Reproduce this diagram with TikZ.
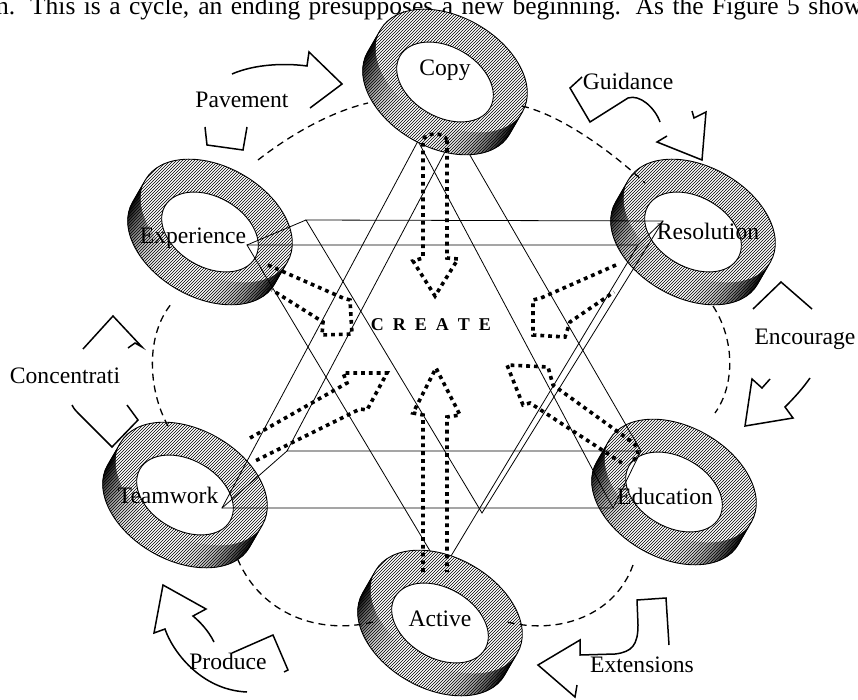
\documentclass[tikz,border=0pt]{standalone}
\usepackage{fontspec}
\setmainfont{Liberation Serif}
\usetikzlibrary{patterns}
\newcommand\tube[2]{%
  \begin{scope}[shift={(#1,#2)}, rotate=60]
    \foreach \t in {90,96,...,264}{%
      \pgfmathsetmacro\g{100*abs(sin(\t+3))^3}%
      \fill[black!\g, draw=black!\g, line width=0.3pt] ({-13+53*cos(\t)},{82*sin(\t)}) arc[start angle=\t, end angle=\t+6, x radius=53, y radius=82] -- ({13+53*cos(\t+6)},{82*sin(\t+6)}) arc[start angle=\t+6, end angle=\t, x radius=53, y radius=82] -- cycle;}
    \fill[white] (13,0) ellipse[x radius=53,y radius=82];
    \filldraw[pattern=north east lines, draw=black, line width=0.9pt] (13,82) arc[start angle=90,end angle=-90,x radius=53,y radius=82] -- (-13,-82) arc[start angle=-90,end angle=-270,x radius=53,y radius=82] -- cycle;
    \filldraw[fill=white, draw=black, line width=0.9pt] (0,0) ellipse[x radius=35,y radius=52];
  \end{scope}}
\begin{document}
\begin{tikzpicture}[x=1pt,y=-1pt,
  lab/.style={font=\fontsize{23.6}{28}\selectfont, inner sep=0pt},
  starline/.style={line width=0.8pt},
  dashedarc/.style={line width=1.3pt, dash pattern=on 7pt off 5pt},
  dotarrow/.style={line width=3.6pt, dash pattern=on 3.8pt off 4pt, line join=miter},
  curvearrow/.style={line width=1.5pt, line join=miter}]
\useasboundingbox (0,0) rectangle (858,700);
\fill[white] (0,0) rectangle (858,700);

\node[font=\fontsize{25.5}{30}\selectfont, inner sep=0pt, anchor=base west] (toptext) at (-4,15) {\makebox[866pt][s]{n. This is a cycle, an ending presupposes a new beginning. As the Figure 5 show}};

% tubes lying under the star
\tube{210}{232}
\tube{693}{232}
\tube{185}{495}
\tube{674}{492}

% star of two doubled triangles
\coordinate (d2a) at (247,245); \coordinate (d2b) at (638,245); \coordinate (d2c) at (442,571);
\coordinate (d1a) at (306,220); \coordinate (d1b) at (663,221); \coordinate (d1c) at (482,513);
\coordinate (u1a) at (287,451); \coordinate (u1b) at (641,451); \coordinate (u1c) at (456,131);
\coordinate (u2a) at (222,508); \coordinate (u2b) at (613,508); \coordinate (u2c) at (418,141);
\draw[starline] (d2a) -- (d2b) -- (d2c) -- cycle;
\draw[starline] (d1a) -- (d1b) -- (d1c) -- cycle;
\draw[starline] (d2a) -- (d1a);
\draw[starline] (d2b) -- (d1b);
\draw[starline] (u1a) -- (u1b) -- (u1c) -- cycle;
\draw[starline] (u2a) -- (u2b) -- (u2c) -- cycle;
\draw[starline] (u1a) -- (u2a);
\draw[starline] (u1b) -- (u2b);

% tubes lying over the star
\tube{445}{82}
\tube{440}{623}

\node[lab, anchor=base] (copy) at (445,76) {Copy};
\node[lab, anchor=base] (experience) at (193,244) {Experience};
\node[lab, anchor=base] (resolution) at (708,240) {Resolution};
\node[lab, anchor=base] (teamwork) at (168,503) {Teamwork};
\node[lab, anchor=base west] (education) at (617,504) {Education};
\node[lab, anchor=base] (active) at (440,626) {Active};
\node[font=\fontsize{18}{20}\selectfont\bfseries, inner sep=0pt, anchor=base] (create) at (431,330) {C\kern9pt R\kern9pt E\kern9pt A\kern9pt T\kern9pt E};

% dashed ring pieces
\draw[dashedarc] (258,160) .. controls (290,135) and (330,112) .. (368,103);
\draw[dashedarc] (522,106) .. controls (560,115) and (610,150) .. (645,183);
\draw[dashedarc] (713,306) .. controls (735,340) and (735,385) .. (715,413);
\draw[dashedarc] (633,565) .. controls (615,615) and (560,635) .. (507,622);
\draw[dashedarc] (373,622) .. controls (320,635) and (262,615) .. (238,560);
\draw[dashedarc] (168,426) .. controls (148,390) and (145,335) .. (172,303);

% dotted arrows toward the centre
\draw[dotarrow] (447,140) .. controls (444,132) and (426,132) .. (423,140) -- (423,258) -- (413,261) -- (435,296) -- (458,259) -- (447,258) -- cycle;
\draw[dotarrow] (423,572) -- (423,415) -- (413,413) -- (436,368) -- (460,415) -- (447,417) -- (447,572);
\draw[dotarrow] (268,265) -- (343,298) -- (350,300) -- (352,334) -- (322,335) -- (323,322) -- (272,290);
\draw[dotarrow] (616,265) -- (541,298) -- (533,300) -- (533,335) -- (565,337) -- (570,322) -- (614,292);
\draw[dotarrow] (250,438) -- (347,383) -- (343,373) -- (387,373) -- (367,410) -- (360,409) -- (253,462);
\draw[dotarrow] (622,463) -- (530,403) -- (523,405) -- (507,365) -- (548,367) -- (553,385) -- (632,442) .. controls (640,448) and (640,458) .. (630,462);

% curved outline arrows
\draw[curvearrow] (232,74) .. controls (255,64) and (285,63) .. (307,66) -- (309,52) -- (342,84) -- (310,108);
\draw[curvearrow] (205,127) -- (207,145) -- (243,150) -- (247,127);
\node[lab, anchor=base] (pavement) at (242,108) {Pavement};

\draw[curvearrow] (582,77) -- (570,88) -- (590,122) -- (628,98) .. controls (640,94) and (655,108) .. (660,122);
\draw[curvearrow] (692,111) -- (694,118) -- (706,112) -- (702,160) -- (657,142) -- (667,136);
\node[lab, anchor=base] (guidance) at (628,90) {Guidance};

\draw[curvearrow] (753,309) -- (781,282) -- (812,309);
\draw[curvearrow] (770,379) -- (762,388) -- (752,379) -- (745,426) -- (793,418) -- (785,407) .. controls (795,397) and (803,388) .. (810,378);
\node[lab, anchor=base] (encourage) at (805,344) {Encourage};

\draw[curvearrow] (83,349) -- (113,316) -- (142,347) -- (135,343) -- (128,348);
\draw[curvearrow] (72,405) .. controls (74,409) and (76,411) .. (78,413) -- (112,447) -- (138,420) -- (127,405);
\node[lab, anchor=base] (concentrati) at (65,383) {Concentrati};

\draw[curvearrow] (214,642) .. controls (208,630) and (200,622) .. (193,616) -- (206,609) -- (163,585) -- (154,633) -- (165,629) .. controls (172,650) and (200,690) .. (247,692);
\draw[curvearrow] (232,653) -- (273,635) -- (288,670) -- (284,672);
\node[lab, anchor=base] (produce) at (228,669) {Produce};

\draw[curvearrow] (669,645) -- (666,598) -- (637,600) -- (638,625) .. controls (638,645) and (632,652) .. (615,654) -- (580,655) -- (580,640) -- (538,665) -- (575,697) -- (577,685);
\node[lab, anchor=base west] (extensions) at (590,672) {Extensions};
\end{tikzpicture}
\end{document}
